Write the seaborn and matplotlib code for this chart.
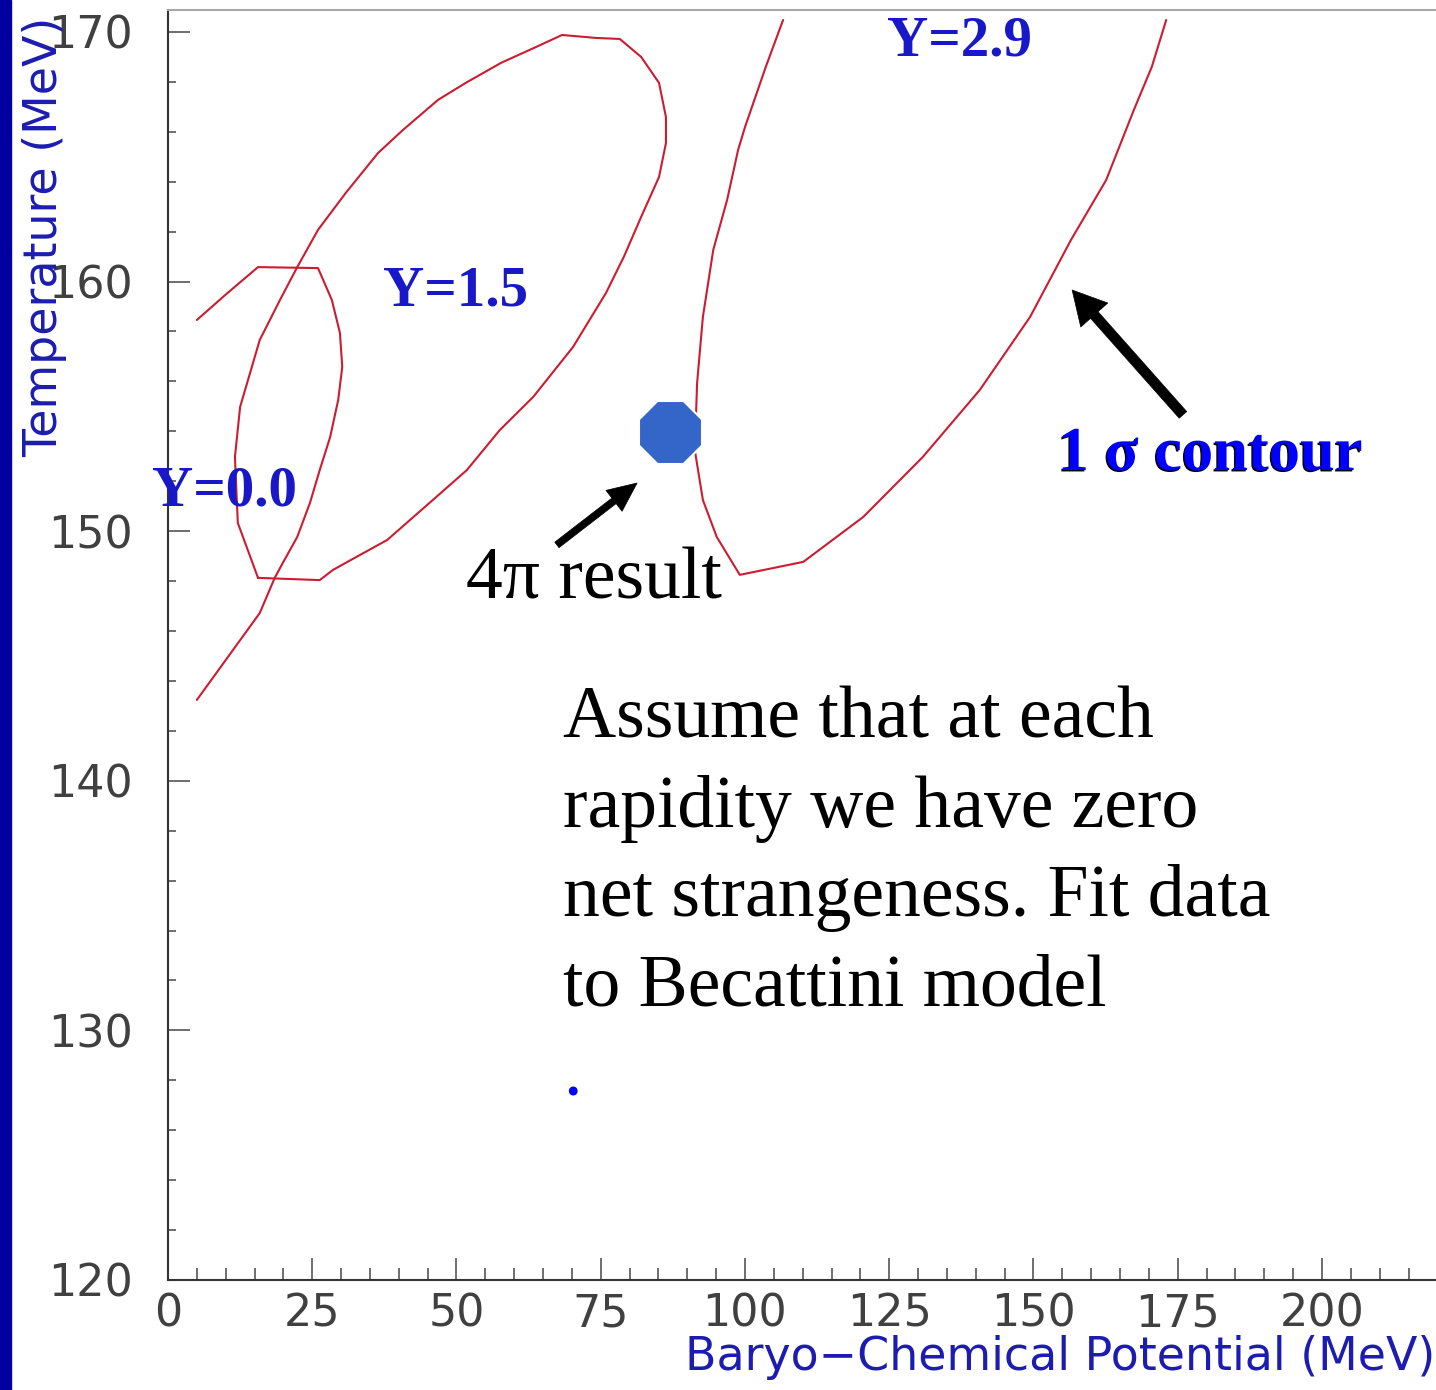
import matplotlib
matplotlib.use("Agg")
import matplotlib.pyplot as plt
import matplotlib.patheffects as pe
from matplotlib.patches import Rectangle
from matplotlib.ticker import MultipleLocator, FixedLocator
import seaborn as sns

# 1-sigma contours of the thermal-model fit in the (mu_B, T) plane, one per rapidity
y00_mu = [5.0, 9.9, 15.6, 26.0, 28.4, 29.8, 30.2, 29.5, 28.1, 26.3, 24.6, 22.4, 19.9, 18.5, 15.9, 5.0]
y00_T = [158.46, 159.46, 160.58, 160.54, 159.26, 157.94, 156.58, 155.26, 153.77, 152.45,
         151.13, 149.77, 148.73, 148.13, 146.72, 143.24]

y15_mu = [15.6, 12.1, 11.6, 12.5, 15.9, 19.4, 22.4, 26.0, 30.8, 36.4, 40.7, 46.8, 51.6, 57.7,
          63.8, 68.3, 74.2, 78.3, 82.0, 85.1, 86.3, 86.3, 85.1, 82.0, 79.0, 75.9, 70.2, 63.3,
          57.5, 51.8, 45.9, 38.0, 28.6, 26.3, 15.6]
y15_T = [148.13, 150.33, 152.97, 154.98, 157.66, 159.26, 160.58, 162.07, 163.55, 165.15,
         166.07, 167.28, 167.96, 168.76, 169.40, 169.88, 169.76, 169.72, 169.00, 167.96,
         166.59, 165.55, 164.19, 162.59, 160.99, 159.54, 157.38, 155.38, 154.05, 152.45,
         151.25, 149.65, 148.45, 148.04, 148.13]

y29_mu = [106.6, 103.6, 100.0, 98.8, 96.9, 94.5, 92.7, 91.7, 91.3, 92.7, 95.1, 99.1, 110.1,
          120.5, 130.8, 140.7, 149.4, 156.5, 162.6, 167.4, 170.5, 173.0]
y29_T = [170.48, 168.60, 166.19, 165.27, 163.27, 161.27, 158.58, 155.94, 153.25, 151.25,
         149.77, 148.25, 148.77, 150.57, 152.97, 155.66, 158.58, 161.67, 164.07, 166.88,
         168.60, 170.48]

# result of the 4pi fit
fit_mu = [87.0]
fit_T = [153.97]

x_ticks = [0, 25, 50, 75, 100, 125, 150, 175, 200]
y_ticks = [120, 130, 140, 150, 160, 170]

contour_labels = ["Y=0.0", "Y=1.5", "Y=2.9"]
note_lines = ["Assume that at each", "rapidity we have zero",
              "net strangeness. Fit data", "to Becattini model"]

sns.set_theme(style="white")
plt.rcParams["font.family"] = ["DejaVu Sans"]

W, H = 1436, 1390
fig = plt.figure(figsize=(W / 100, H / 100), dpi=100)
fig.patch.set_facecolor("white")
ax = fig.add_axes([168 / W, 110 / H, 1269.4 / W, 1270 / H])
ax.set_facecolor("white")

# dark blue band along the left edge
fig.patches.append(Rectangle((0, 0), 11 / W, 1, transform=fig.transFigure,
                             color="#0000a0", zorder=0))

red = "#cc1c30"
for mu, T in ((y00_mu, y00_T), (y15_mu, y15_T), (y29_mu, y29_T)):
    sns.lineplot(x=mu, y=T, sort=False, estimator=None, color=red, lw=1.5, ax=ax)

sns.scatterplot(x=fit_mu, y=fit_T, marker="8", s=2410, color="#3465c8",
                edgecolor="white", linewidth=1.5, ax=ax, zorder=5)

ax.set_xlim(0, 220)
ax.set_ylim(120, 170.88)

ax.xaxis.set_major_locator(FixedLocator(x_ticks))
ax.xaxis.set_minor_locator(MultipleLocator(5))
ax.yaxis.set_major_locator(FixedLocator(y_ticks))
ax.yaxis.set_minor_locator(MultipleLocator(2))
ax.set_xticklabels([str(v) for v in x_ticks])
ax.set_yticklabels([str(v) for v in y_ticks])

tick_col = "#555555"
ax.tick_params(axis="both", which="both", direction="in", color=tick_col, width=1.2,
               bottom=True, left=True, top=False, right=False)
ax.tick_params(axis="both", which="major", length=16)
ax.tick_params(axis="x", which="minor", length=9)
ax.tick_params(axis="y", which="minor", length=6)
ax.tick_params(axis="x", which="major", pad=9, labelsize=32, labelcolor="#404040")
ax.tick_params(axis="y", which="major", pad=25, labelsize=32, labelcolor="#404040")

for side in ("left", "bottom"):
    ax.spines[side].set_color("#333333")
    ax.spines[side].set_linewidth(1.5)
ax.spines["top"].set_color("#a8a8a8")
ax.spines["top"].set_linewidth(1.5)
ax.spines["right"].set_visible(False)

label_col = "#1c1cb0"
ax.set_xlabel("Baryo\u2212Chemical Potential (MeV)", fontsize=33, color=label_col,
              loc="right")
ax.xaxis.set_label_coords(0.9985, -0.043)
ax.set_ylabel("Temperature (MeV)", fontsize=33, color=label_col, loc="top")
ax.yaxis.set_label_coords(-0.0796, 0.995)

serif = ["Liberation Serif", "DejaVu Serif"]
lab_col = "#1818c8"
for text, (lx, ly) in zip(contour_labels, [(-2.8, 151.6), (37.3, 159.6), (124.6, 169.6)]):
    ax.text(lx, ly, text, family=serif, fontweight="bold", fontsize=41, color=lab_col,
            ha="left", va="center", clip_on=False, zorder=6)

ax.text(154.2, 153.05, "1 \u03c3 contour", family=serif, fontweight="bold", fontsize=45,
        color="#0000ff", ha="left", va="center", zorder=6,
        path_effects=[pe.withSimplePatchShadow(offset=(-1.0, -1.0),
                                               shadow_rgbFace="black", alpha=1.0)])

ax.text(51.6, 147.32, "4\u03c0 result", family=serif, fontsize=53, color="black",
        ha="left", va="baseline", zorder=6)

for i, line in enumerate(note_lines):
    ax.text(68.5, 141.75 - i * 3.59, line, family=serif, fontsize=53, color="black",
            ha="left", va="baseline", zorder=6)
ax.text(68.5, 141.75 - len(note_lines) * 3.59, ".", family=serif, fontsize=53,
        color="#0000ff", ha="left", va="baseline", zorder=6)

# arrows pointing at the fit result and at the contour
ax.annotate("", xy=(81.3, 151.93), xytext=(67.4, 149.45),
            arrowprops=dict(arrowstyle="simple,head_length=2.1,head_width=1.9,tail_width=0.5",
                            fc="black", ec="black", lw=0.5, mutation_scale=10,
                            shrinkA=0, shrinkB=0), zorder=7)
ax.annotate("", xy=(156.7, 159.66), xytext=(175.9, 154.66),
            arrowprops=dict(arrowstyle="simple,head_length=2.4,head_width=2.6,tail_width=0.72",
                            fc="black", ec="black", lw=0.5, mutation_scale=10,
                            shrinkA=0, shrinkB=0), zorder=7)

fig.savefig("out.png", dpi=100, facecolor="white")
